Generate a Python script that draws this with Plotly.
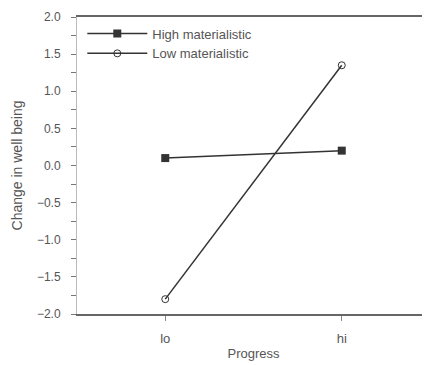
import plotly.graph_objects as go

categories = ["lo", "hi"]
high_materialistic = [0.1, 0.2]
low_materialistic = [-1.8, 1.35]
y_ticks = [-2.0, -1.5, -1.0, -0.5, 0.0, 0.5, 1.0, 1.5, 2.0]
y_tick_labels = ["\u22122.0", "\u22121.5", "\u22121.0", "\u22120.5", "0.0", "0.5", "1.0", "1.5", "2.0"]

fig = go.Figure()
fig.add_trace(go.Scatter(
    x=[0, 1], y=high_materialistic, name="High materialistic",
    mode="lines+markers",
    line=dict(color="#333333", width=1.5),
    marker=dict(symbol="square", size=8, color="#333333"),
))
fig.add_trace(go.Scatter(
    x=[0, 1], y=low_materialistic, name="Low materialistic",
    mode="lines+markers",
    line=dict(color="#333333", width=1.5),
    marker=dict(symbol="circle-open", size=7, color="#333333", line=dict(width=1)),
))

font_family = "Liberation Sans, Arial, sans-serif"
fig.update_layout(
    width=422, height=357,
    margin=dict(l=69, r=0, t=9, b=51, autoexpand=False),
    paper_bgcolor="white", plot_bgcolor="white",
    font=dict(family=font_family, size=12, color="#555555"),
    showlegend=True,
    legend=dict(x=0.015, y=0.995, xanchor="left", yanchor="top",
                bgcolor="rgba(0,0,0,0)", font=dict(size=13, color="#555555"),
                tracegroupgap=0, itemwidth=60),
    xaxis=dict(
        range=[-0.5, 1.5], tickvals=[0, 1], ticktext=categories,
        showline=True, linecolor="#666666", linewidth=1.5, mirror=True,
        ticks="outside", ticklen=5, tickcolor="#888888",
        tickfont=dict(size=13),
        ticklabelstandoff=7,
        showgrid=False, zeroline=False, automargin=False,
        title=dict(text="Progress", font=dict(size=13, color="#555555"), standoff=4),
    ),
    yaxis=dict(
        range=[-2.0, 2.0], tickvals=y_ticks, ticktext=y_tick_labels,
        showline=True, linecolor="#bbbbbb", linewidth=1,
        ticks="outside", ticklen=5, tickcolor="#777777",
        ticklabelstandoff=8,
        minor=dict(dtick=0.25, ticks="outside", ticklen=5, tickcolor="#777777"),
        showgrid=False, zeroline=False, automargin=False,
        title=dict(text="Change in well being", font=dict(size=14, color="#555555"), standoff=10),
    ),
)

fig.write_html("out.html")
